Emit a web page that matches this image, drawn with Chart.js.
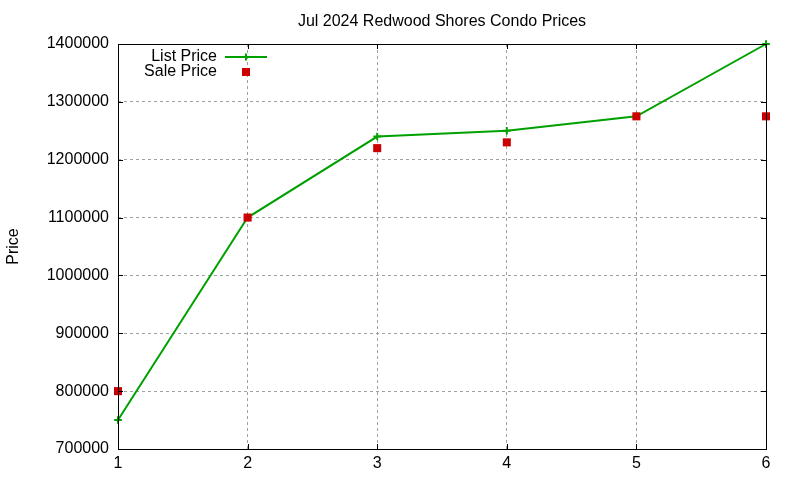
<!DOCTYPE html>
<html><head><meta charset="utf-8">
<script src="https://cdn.jsdelivr.net/npm/chart.js@4"></script>
<style>html,body{margin:0;padding:0;background:#fff}#wrap{width:800px;height:480px}</style>
</head><body><div id="wrap"><canvas id="c" width="800" height="480"></canvas></div>
<script>
const titleText = 'Jul 2024 Redwood Shores Condo Prices';
const yLabel = 'Price';
const xValues = [1, 2, 3, 4, 5, 6];
const listPrice = [750000, 1100000, 1240000, 1250000, 1275000, 1400000];
const salePrice = [800000, 1100000, 1220000, 1230000, 1275000, 1275000];
const seriesNames = ['List Price', 'Sale Price'];
const yMin = 700000, yMax = 1400000, yStep = 100000;

const GREEN = '#00a000', RED = '#cc0000';
const FONT = 'Liberation Sans, Arial, sans-serif';

const framePlugin = {
  id: 'frame',
  afterDraw(chart) {
    const {ctx, chartArea: a, scales} = chart;
    ctx.save();
    ctx.strokeStyle = '#000'; ctx.lineWidth = 1;
    ctx.beginPath();
    scales.y.ticks.forEach(t => {
      const y = Math.round(scales.y.getPixelForValue(t.value)) + 0.5;
      ctx.moveTo(a.left, y); ctx.lineTo(a.left + 5, y);
      ctx.moveTo(a.right, y); ctx.lineTo(a.right - 5, y);
    });
    scales.x.ticks.forEach(t => {
      const x = Math.round(scales.x.getPixelForValue(t.value)) + 0.5;
      ctx.moveTo(x, a.bottom); ctx.lineTo(x, a.bottom - 5);
      ctx.moveTo(x, a.top); ctx.lineTo(x, a.top + 5);
    });
    ctx.stroke();
    ctx.strokeRect(Math.round(a.left) + 0.5, Math.round(a.top) + 0.5, Math.round(a.right - a.left), Math.round(a.bottom - a.top));
    ctx.fillStyle = '#000';
    ctx.font = '16px ' + FONT;
    ctx.textAlign = 'center'; ctx.textBaseline = 'middle';
    ctx.fillText(titleText, (a.left + a.right) / 2, 21.5);
    ctx.textAlign = 'right';
    const ds = chart.data.datasets;
    ctx.fillText(ds[0].label, 217, 56.5);
    ctx.fillText(ds[1].label, 217, 71.5);
    ctx.strokeStyle = ds[0].borderColor; ctx.lineWidth = 2;
    ctx.beginPath(); ctx.moveTo(225, 57); ctx.lineTo(267, 57);
    ctx.moveTo(246, 53.5); ctx.lineTo(246, 60.5); ctx.stroke();
    ctx.fillStyle = ds[1].backgroundColor;
    ctx.fillRect(242, 68, 8, 8);
    ctx.restore();
  }
};

new Chart(document.getElementById('c'), {
  type: 'line',
  data: {
    datasets: [
      {
        label: seriesNames[0],
        data: xValues.map((x, i) => ({x, y: listPrice[i]})),
        borderColor: GREEN, backgroundColor: GREEN, borderWidth: 2,
        pointStyle: 'cross', pointRadius: 3.8, pointBorderWidth: 2,
        pointBorderColor: GREEN, tension: 0, fill: false, clip: false, order: 1
      },
      {
        label: seriesNames[1],
        data: xValues.map((x, i) => ({x, y: salePrice[i]})),
        showLine: false, borderColor: RED, backgroundColor: RED,
        pointStyle: 'rect', pointRadius: 5.7, pointBorderWidth: 0,
        pointBackgroundColor: RED, pointBorderColor: RED, clip: false, order: 0
      }
    ]
  },
  options: {
    responsive: false, animation: false, devicePixelRatio: 1,
    layout: {padding: {top: 44, right: 34, left: 0, bottom: 0}},
    plugins: {legend: {display: false}, title: {display: false}, tooltip: {enabled: false}},
    scales: {
      x: {
        type: 'linear', min: 1, max: 6,
        ticks: {stepSize: 1, color: '#000', font: {family: FONT, size: 16}, padding: 5},
        grid: {color: '#a0a0a0', drawTicks: false, lineWidth: 1},
        border: {display: false, dash: [3, 3]},
        afterFit: s => { s.height = 31; }
      },
      y: {
        min: yMin, max: yMax,
        ticks: {stepSize: yStep, color: '#000', font: {family: FONT, size: 16}, padding: 9,
                callback: v => String(v)},
        grid: {color: '#a0a0a0', drawTicks: false, lineWidth: 1},
        border: {display: false, dash: [3, 3]},
        title: {display: true, text: yLabel, color: '#000', font: {family: FONT, size: 16}, padding: {top: 4, bottom: 4}},
        afterFit: s => { s.width = 118; }
      }
    }
  },
  plugins: [framePlugin]
});
</script></body></html>
